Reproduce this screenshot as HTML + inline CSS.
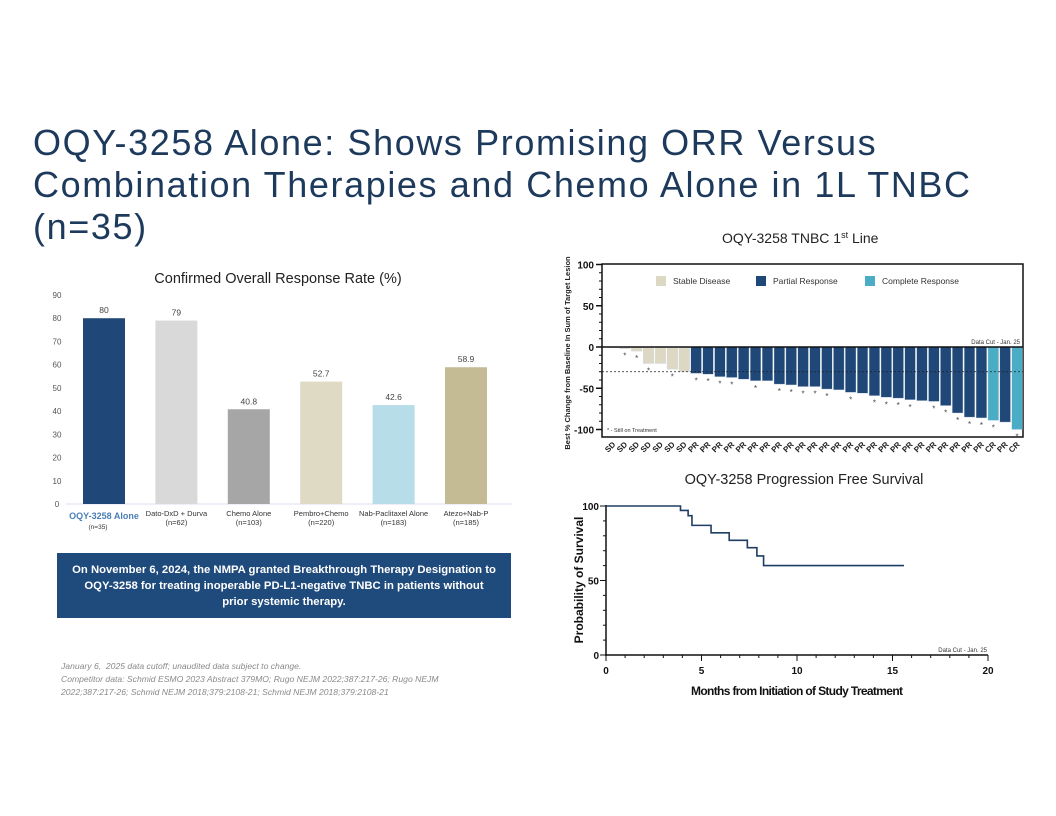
<!DOCTYPE html>
<html><head><meta charset="utf-8">
<style>
body{margin:0;width:1056px;height:816px;background:#fff;overflow:hidden;font-family:"Liberation Sans",sans-serif;position:relative}
.title{position:absolute;left:33px;top:122px;font-size:36px;line-height:42px;color:#1d3a5c;letter-spacing:1.6px;margin:0;font-weight:normal;white-space:nowrap}
.box{position:absolute;left:57px;top:553px;width:454px;height:65px;background:#1f4a7c;color:#fff;font-weight:bold;font-size:11.3px;line-height:16px;text-align:center;display:flex;align-items:center;justify-content:center;padding:0 14px;box-sizing:border-box}
.foot{position:absolute;left:61px;top:660px;font-size:8.6px;line-height:13px;color:#8a8a8a;font-style:italic}
svg{position:absolute;left:0;top:0}
</style></head><body>
<h1 class="title">OQY-3258 Alone: Shows Promising ORR Versus<br>Combination Therapies and Chemo Alone in 1L TNBC<br>(n=35)</h1>
<div class="box">On November 6, 2024, the NMPA granted Breakthrough Therapy Designation to OQY-3258 for treating inoperable PD-L1-negative TNBC in patients without prior systemic therapy.</div>
<div class="foot">January 6,&nbsp; 2025 data cutoff; unaudited data subject to change.<br>Competitor data: Schmid ESMO 2023 Abstract 379MO; Rugo NEJM 2022;387:217-26; Rugo NEJM<br>2022;387:217-26; Schmid NEJM 2018;379:2108-21; Schmid NEJM 2018;379:2108-21</div>
<svg id="svg" width="1056" height="816" xmlns="http://www.w3.org/2000/svg" font-family="Liberation Sans, sans-serif"></svg>
<script>
// ORR bar chart data
const orrCategories=["OQY-3258 Alone","Dato-DxD + Durva","Chemo Alone","Pembro+Chemo","Nab-Paclitaxel Alone","Atezo+Nab-P"];
const orrN=["(n=35)","(n=62)","(n=103)","(n=220)","(n=183)","(n=185)"];
const orrValues=[80,79,40.8,52.7,42.6,58.9];
const orrLabels=["80","79","40.8","52.7","42.6","58.9"];
const orrColors=["#1f4878","#d9d9d9","#a6a6a6","#dfdac3","#b7dde8","#c4bb94"];
const orrTicks=[0,10,20,30,40,50,60,70,80,90];
// Waterfall data
const wfValues=[-1,-2,-5,-20,-20,-27,-30,-32,-33,-36,-37,-39,-41,-41,-45,-46,-48,-48,-51,-52,-55,-56,-59,-61,-62,-64,-65,-66,-71,-80,-85,-86,-89,-91,-100];
const wfResponse=["SD","SD","SD","SD","SD","SD","SD","PR","PR","PR","PR","PR","PR","PR","PR","PR","PR","PR","PR","PR","PR","PR","PR","PR","PR","PR","PR","PR","PR","PR","PR","PR","CR","PR","CR"];
const wfOnTreatment=[0,1,1,1,0,1,0,1,1,1,1,0,1,0,1,1,1,1,1,0,1,0,1,1,1,1,0,1,1,1,1,1,1,0,1];
const wfTicks=[100,50,0,-50,-100];
// KM data
const kmTimes=[0,3.9,4.3,4.5,5.5,6.45,7.4,7.9,8.25,15.6];
const kmSurv=[100,97,93.5,87,82,77,72,66.5,60,60];
const kmXTicks=[0,5,10,15,20];
const kmYTicks=[0,50,100];

const svg=document.getElementById('svg');
const NS="http://www.w3.org/2000/svg";
function mk(tag,attrs,parent){const e=document.createElementNS(NS,tag);for(const k in attrs)e.setAttribute(k,attrs[k]);(parent||svg).appendChild(e);return e;}
function txt(s,attrs,parent){const e=mk('text',attrs,parent);e.textContent=s;return e;}

// ---- ORR chart ----
const g1=mk('g',{});


const oy=v=>504-v*(209/90);
const ox=i=>104+i*72.4;
let t=txt("Confirmed Overall Response Rate (%)",{x:278,y:283,'font-size':14.5,'text-anchor':'middle',fill:'#222'},g1);


orrTicks.forEach(v=>{const e=txt(String(v),{x:57,y:oy(v)+3,'font-size':8,'text-anchor':'middle',fill:'#555'},g1);

});
const base=mk('line',{x1:66,x2:512,y1:504,y2:504,stroke:'#d9e2ec','stroke-width':1},g1);


orrValues.forEach((v,i)=>{
 const r=mk('rect',{x:ox(i)-21,y:oy(v),width:42,height:504-oy(v),fill:orrColors[i]},g1);
 
 
 const l=txt(orrLabels[i],{x:ox(i),y:oy(v)-5,'font-size':8.5,'text-anchor':'middle',fill:'#444'},g1);
 
 
 const c=txt(orrCategories[i],{x:ox(i),y:i==0?519:516,'font-size':i==0?9:7.5,'font-weight':i==0?'bold':'normal','text-anchor':'middle',fill:i==0?'#4a7fb5':'#333'},g1);
 
 
 const n=txt(orrN[i],{x:ox(i)-(i==0?6:0),y:i==0?529:525,'font-size':i==0?6.5:7.5,'text-anchor':'middle',fill:'#333'},g1);
 
 
});

// ---- Waterfall ----
const g2=mk('g',{});


const wy=v=>347-v*0.825;
const wbw=(1023-607)/35;
const wx=i=>607+i*wbw;
t=txt("OQY-3258 TNBC 1",{x:722,y:243,'font-size':14,fill:'#222'},g2);
const sup=mk('tspan',{dy:-5,'font-size':9},t);sup.textContent="st";
const ln=mk('tspan',{dy:5},t);ln.textContent=" Line";


const frame=mk('rect',{x:602,y:264,width:421,height:173,fill:'none',stroke:'#111','stroke-width':1.5},g2);


for(let v=-100;v<=100;v+=10){mk('line',{x1:599,x2:602,y1:wy(v),y2:wy(v),stroke:'#111','stroke-width':1},g2);}
wfTicks.forEach(v=>{mk('line',{x1:596,x2:602,y1:wy(v),y2:wy(v),stroke:'#111','stroke-width':1.5},g2);
 const e=txt(String(v),{x:594,y:wy(v)+4,'font-size':10,'font-weight':'bold','text-anchor':'end',fill:'#111'},g2);
 
 });
t=txt("Best % Change from Baseline In Sum of Target Lesion",{x:0,y:0,'font-size':7.5,'font-weight':'bold','text-anchor':'middle',fill:'#222',transform:'translate(570,353) rotate(-90)'},g2);


const wcol={SD:'#ddd8c4',PR:'#1f4878',CR:'#4bacc6'};
wfValues.forEach((v,i)=>{
 const r=mk('rect',{x:wx(i)+0.6,y:wy(0),width:wbw-1.2,height:Math.max(0.5,wy(v)-wy(0)),fill:wcol[wfResponse[i]],stroke:'#cfd8e2','stroke-width':0.4},g2);
 
 
 if(wfOnTreatment[i]){const a=txt('*',{x:wx(i)+wbw/2,y:wy(v)+10,'font-size':8,'text-anchor':'middle',fill:'#444'},g2);
 
 }
 const l=txt(wfResponse[i],{x:0,y:0,'font-size':8,'font-weight':'bold','text-anchor':'end',fill:'#222',transform:`translate(${wx(i)+wbw/2+3},${445}) rotate(-45)`},g2);
 
 
});
mk('line',{x1:602,x2:1023,y1:wy(0),y2:wy(0),stroke:'#111','stroke-width':1.5},g2);
const dl=mk('line',{x1:602,x2:1023,y1:wy(-30),y2:wy(-30),stroke:'#222','stroke-width':0.8,'stroke-dasharray':'2,2'},g2);


t=txt("Data Cut -  Jan. 25",{x:1020,y:344,'font-size':6,'text-anchor':'end',fill:'#333'},g2);


t=txt("* -  Still on Treatment",{x:607,y:432,'font-size':5.5,fill:'#333'},g2);


[["Stable Disease",656,'#ddd8c4'],["Partial Response",756,'#1f4878'],["Complete Response",865,'#4bacc6']].forEach(([s,x,c])=>{
 const lg=mk('g',{},g2);
 
 
 mk('rect',{x:x,y:276,width:10,height:10,fill:c},lg);
 txt(s,{x:x+17,y:284,'font-size':8.5,fill:'#333'},lg);
});

// ---- KM ----
const g3=mk('g',{});


const kx=v=>606+v*(382/20);
const ky=v=>655-v*1.49;
t=txt("OQY-3258 Progression Free Survival",{x:804,y:484,'font-size':14.5,'text-anchor':'middle',fill:'#222'},g3);


mk('line',{x1:606,x2:606,y1:505,y2:656,stroke:'#111','stroke-width':1.5},g3);
mk('line',{x1:605,x2:988,y1:655,y2:655,stroke:'#111','stroke-width':1.5},g3);
for(let v=0;v<=20;v++){mk('line',{x1:kx(v),x2:kx(v),y1:655,y2:v%5?658:661,stroke:'#111','stroke-width':1},g3);}
for(let v=0;v<=100;v+=10){mk('line',{x1:606,x2:v%50?603:600,y1:ky(v),y2:ky(v),stroke:'#111','stroke-width':1},g3);}
kmXTicks.forEach(v=>{const e=txt(String(v),{x:kx(v),y:674,'font-size':10,'font-weight':'bold','text-anchor':'middle',fill:'#111'},g3);
 
 });
kmYTicks.forEach(v=>{const e=txt(String(v),{x:599,y:ky(v)+4,'font-size':10,'font-weight':'bold','text-anchor':'end',fill:'#111'},g3);
 
 });
t=txt("Months from Initiation of Study Treatment",{x:797,y:695,'font-size':12,'font-weight':'bold','text-anchor':'middle',fill:'#111',textLength:212},g3);


t=txt("Probability of Survival",{x:0,y:0,'font-size':12,'font-weight':'bold','text-anchor':'middle',fill:'#111',transform:'translate(583,580) rotate(-90)'},g3);


t=txt("Data Cut -  Jan. 25",{x:987,y:652,'font-size':6,'text-anchor':'end',fill:'#333'},g3);


let d=`M${kx(kmTimes[0])},${ky(kmSurv[0])}`;
for(let i=1;i<kmTimes.length;i++){d+=` H${kx(kmTimes[i])} V${ky(kmSurv[i])}`;}
const kp=mk('path',{d:d,fill:'none',stroke:'#1f3e64','stroke-width':1.6},g3);


</script>
</body></html>
